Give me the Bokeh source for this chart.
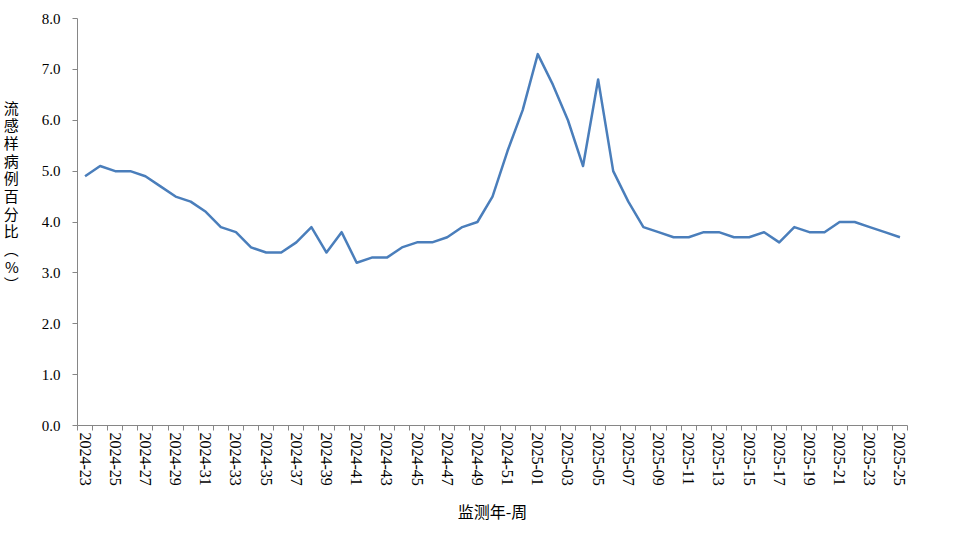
import math
from bokeh.plotting import figure
from bokeh.models import Range1d, FixedTicker, PrintfTickFormatter, ColumnDataSource
from bokeh.embed import file_html
from bokeh.resources import INLINE

weeks = [f"2024-{w:02d}" for w in range(23, 53)] + [f"2025-{w:02d}" for w in range(1, 26)]
ili_pct = [4.9, 5.1, 5.0, 5.0, 4.9, 4.7, 4.5, 4.4, 4.2, 3.9,
           3.8, 3.5, 3.4, 3.4, 3.6, 3.9, 3.4, 3.8, 3.2, 3.3,
           3.3, 3.5, 3.6, 3.6, 3.7, 3.9, 4.0, 4.5, 5.4, 6.2,
           7.3, 6.7, 6.0, 5.1, 6.8, 5.0, 4.4, 3.9, 3.8, 3.7,
           3.7, 3.8, 3.8, 3.7, 3.7, 3.8, 3.6, 3.9, 3.8, 3.8,
           4.0, 4.0, 3.9, 3.8, 3.7]
y_ticks = [0, 1, 2, 3, 4, 5, 6, 7, 8]
y_title = "流感样病例百分比︵%︶"
x_title = "监测年-周"

n = len(weeks)
idx = list(range(n))

p = figure(width=950, height=535, output_backend="svg", toolbar_location=None,
           x_range=Range1d(-0.5, n - 0.5), y_range=Range1d(0, 8),
           min_border_left=77, min_border_right=43, min_border_top=18, min_border_bottom=110)
p.outline_line_color = None
p.xgrid.visible = False
p.ygrid.visible = False
p.background_fill_color = "white"
p.border_fill_color = "white"

src = ColumnDataSource(dict(x=idx, y=ili_pct))
p.line("x", "y", source=src, line_color="#4A7EBB", line_width=2.5, line_join="round")

axis_color = "#868686"
serif = "Liberation Serif"

xa = p.xaxis[0]
xa.ticker = FixedTicker(ticks=idx[::2], minor_ticks=[i - 0.5 for i in range(n + 1)])
xa.major_label_overrides = {i: weeks[i] for i in idx[::2]}
xa.major_label_orientation = -math.pi / 2
xa.major_tick_line_color = None
xa.major_tick_out = 5
xa.major_tick_in = 0
xa.minor_tick_out = 5
xa.minor_tick_in = 0
xa.minor_tick_line_color = axis_color
xa.axis_line_color = axis_color
xa.major_label_standoff = 2
xa.major_label_text_font = serif
xa.major_label_text_font_size = "16px"
xa.major_label_text_color = "#000000"
xa.axis_label = x_title
xa.axis_label_text_font = "Noto Sans CJK SC"
xa.axis_label_text_font_size = "16px"
xa.axis_label_text_font_style = "normal"
xa.axis_label_text_color = "#000000"
xa.axis_label_standoff = 10

ya = p.yaxis[0]
ya.ticker = FixedTicker(ticks=y_ticks, minor_ticks=[])
ya.formatter = PrintfTickFormatter(format="%.1f")
ya.major_tick_out = 5
ya.major_tick_in = 0
ya.major_tick_line_color = axis_color
ya.axis_line_color = axis_color
ya.major_label_standoff = 12
ya.major_label_text_font = serif
ya.major_label_text_font_size = "15px"
ya.major_label_text_color = "#000000"
ya.axis_label = "\n".join(y_title) + "\n\n\n"
ya.axis_label_orientation = "horizontal"
ya.axis_label_text_font = "Noto Sans CJK SC"
ya.axis_label_text_font_size = "15px"
ya.axis_label_text_font_style = "normal"
ya.axis_label_text_line_height = 0.84
ya.axis_label_text_color = "#000000"
ya.axis_label_standoff = 20

open("out.html", "w").write(file_html(p, INLINE))
